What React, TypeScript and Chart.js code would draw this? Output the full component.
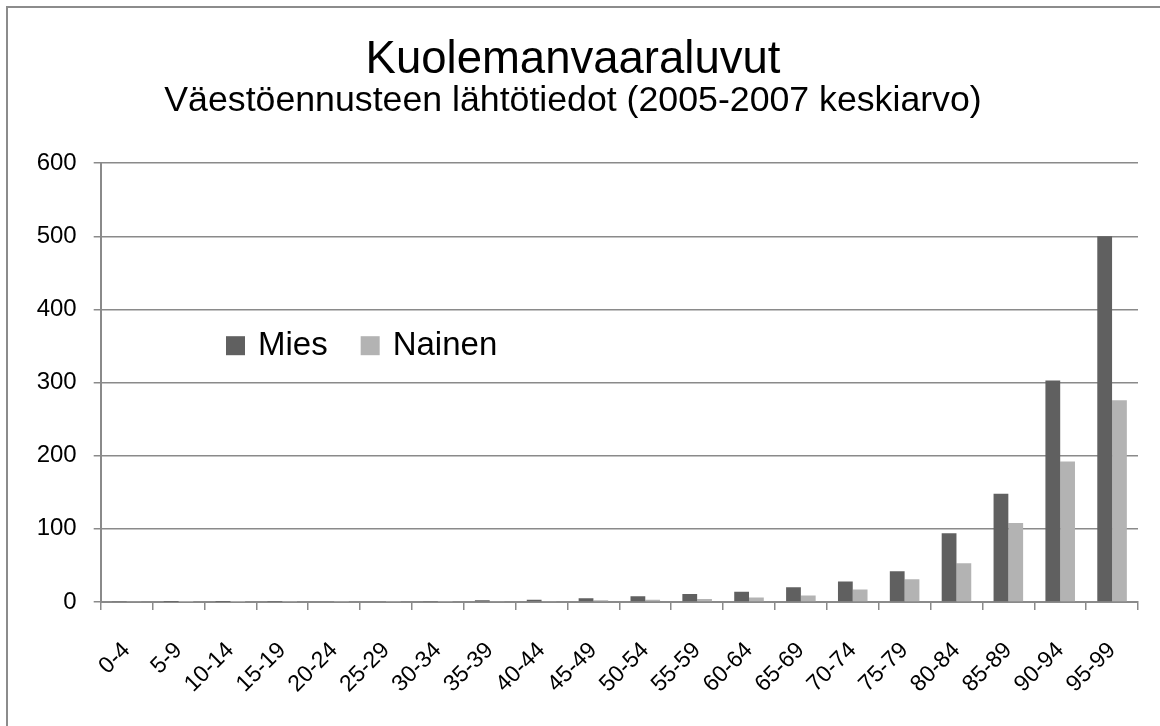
import { useEffect, useRef } from "react";
import { Chart, registerables } from "chart.js";

Chart.register(...registerables);

const categories = [
  "0-4", "5-9", "10-14", "15-19", "20-24", "25-29", "30-34", "35-39", "40-44", "45-49",
  "50-54", "55-59", "60-64", "65-69", "70-74", "75-79", "80-84", "85-89", "90-94", "95-99",
];
const miesValues = [0.8, 0.1, 0.1, 0.5, 1.0, 1.0, 1.2, 2.5, 3, 5, 8, 11, 14, 20, 28, 42, 94, 148, 303, 500];
const nainenValues = [0.6, 0.1, 0.1, 0.2, 0.3, 0.4, 0.5, 0.8, 1.3, 2.3, 3, 4, 6, 9, 17, 31, 53, 108, 192, 276];
const yTicks = [0, 100, 200, 300, 400, 500, 600];

const FONT = "'Liberation Sans', Arial, sans-serif";
const GRID = "#8a8a8a";

const insideLegend = {
  id: "insideLegend",
  afterDraw(chart: any, _args: any, opts: any) {
    const ctx = chart.ctx;
    ctx.save();
    ctx.font = `${opts.fontSize}px ${FONT}`;
    ctx.textBaseline = "middle";
    ctx.textAlign = "left";
    let x = chart.chartArea.left + opts.offsetX;
    const y = chart.chartArea.top + opts.offsetY;
    chart.data.datasets.forEach((ds: any) => {
      ctx.fillStyle = ds.backgroundColor;
      ctx.fillRect(x, y - opts.box / 2, opts.box, opts.box);
      x += opts.box + opts.gap;
      ctx.fillStyle = "#000";
      ctx.fillText(ds.label, x, y);
      x += ctx.measureText(ds.label).width + opts.spacing;
    });
    ctx.restore();
  },
};

export default function App() {
  const ref = useRef<HTMLCanvasElement>(null);
  useEffect(() => {
    const chart = new Chart(ref.current as HTMLCanvasElement, {
      type: "bar",
      data: {
        labels: categories,
        datasets: [
          { label: "Mies", data: miesValues, backgroundColor: "#606060" },
          { label: "Nainen", data: nainenValues, backgroundColor: "#b3b3b3" },
        ],
      },
      plugins: [insideLegend],
      options: {
        animation: false,
        responsive: false,
        layout: { padding: { left: 0, right: 22, top: 0, bottom: 0 } },
        datasets: { bar: { categoryPercentage: 0.57, barPercentage: 1 } } as any,
        plugins: {
          legend: { display: false },
          tooltip: { enabled: false },
          title: {
            display: true,
            text: "Kuolemanvaaraluvut",
            color: "#000",
            font: { family: FONT, size: 45.5, weight: "normal", lineHeight: 1 },
            padding: { top: 30, bottom: 0 },
          },
          subtitle: {
            display: true,
            text: "Väestöennusteen lähtötiedot (2005-2007 keskiarvo)",
            color: "#000",
            font: { family: FONT, size: 35.7, weight: "normal", lineHeight: 1 },
            padding: { top: 0, bottom: 44 },
          },
          insideLegend: { fontSize: 33, box: 19, gap: 13, spacing: 33, offsetX: 125.3, offsetY: 182.5 },
        } as any,
        scales: {
          x: {
            grid: { display: true, drawOnChartArea: false, drawTicks: true, tickLength: 8, color: GRID, lineWidth: 1.5, offset: true },
            border: { display: true, color: GRID, width: 2 },
            ticks: {
              color: "#000",
              font: { family: FONT, size: 23 },
              maxRotation: 45,
              minRotation: 45,
              padding: 27,
              autoSkip: false,
            },
            afterFit: (s: any) => { s.height = 124; },
          },
          y: {
            min: 0,
            max: 600,
            afterBuildTicks: (s: any) => { s.ticks = yTicks.map((v) => ({ value: v })); },
            ticks: { color: "#000", font: { family: FONT, size: 24 }, padding: 17 },
            grid: { color: GRID, lineWidth: 1.5, tickLength: 7 },
            border: { display: true, color: GRID, width: 2 },
            afterFit: (s: any) => { s.width = 92.7; },
          },
        },
      },
    });
    return () => chart.destroy();
  }, []);
  return (
    <div
      style={{
        position: "absolute",
        left: 6,
        top: 6,
        width: 1154,
        height: 720,
        borderTop: "2px solid #8c8c8c",
        borderLeft: "2px solid #8c8c8c",
        background: "#fff",
        overflow: "hidden",
      }}
    >
      <canvas ref={ref} width={1152} height={718} style={{ display: "block" }} />
    </div>
  );
}
